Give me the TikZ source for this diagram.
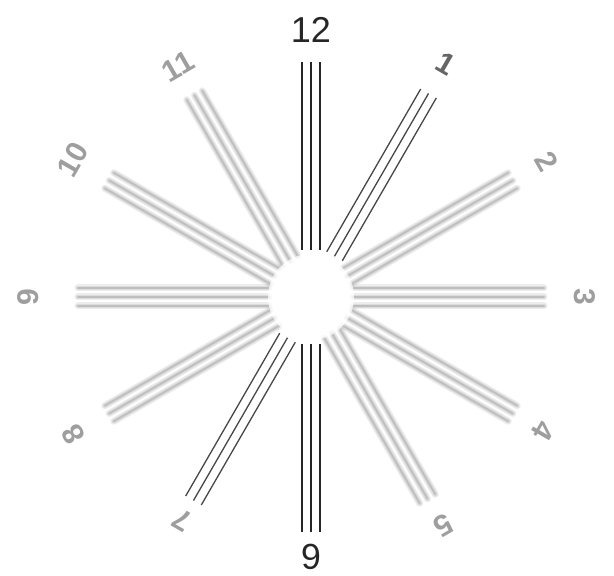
\documentclass[tikz,border=0pt]{standalone}
\usepackage{fontspec}
\setmainfont{Liberation Sans}
\tikzset{
  sharpline/.style={line width=1.5pt, draw=black!85},
  halfline/.style={line width=1.3pt, draw=black!72},
  haze/.style={line width=#1, draw=black, opacity=0.07, line cap=round},
  numbig/.style={font=\fontsize{36}{36}\selectfont, text=black!85, inner sep=0pt},
  numsoft/.style={font=\fontsize{30}{30}\selectfont\bfseries, text=black!38, inner sep=0pt}
}
\begin{document}
\begin{tikzpicture}[x=1pt,y=1pt]
        \useasboundingbox (-311,-279) rectangle (303,297);
        \coordinate (O) at (0,0);
        % blurred spokes
        \foreach \h in {2,3,4,5,8,9,10,11} {
          \begin{scope}[rotate=90-30*\h]
            \foreach \d in {-9,0,9} {
              \draw[haze=7pt] (42,\d) -- (233,\d);
              \draw[haze=4.5pt] (42,\d) -- (233,\d);
              \draw[haze=2.5pt] (42,\d) -- (233,\d);
              \draw[haze=1.2pt] (42,\d) -- (233,\d);
            }
          \end{scope}
        }
        % sharp spokes, 12 -- 6 and 1 -- 7
        \foreach \h/\st in {12/sharpline,6/sharpline,1/halfline,7/halfline} {
          \begin{scope}[rotate=90-30*\h]
            \foreach \d in {-9,0,9}
              \draw[\st] (47,\d) -- (235,\d);
          \end{scope}
        }
        \fill[white, opacity=0.7] (O) circle (43);
        % hour numbers
        \foreach \h/\r in {2/272,3/274,4/268,5/264,7/258,8/274,9/283,10/275,11/266}
          \node[numsoft, rotate=-30*\h] (lbl\h) at (90-30*\h:\r) {\h};
        \node[numsoft, text=black!60, rotate=-30] (lbl1) at (60:269) {1};
        \node[numbig] (lbl12) at (90:267) {12};
        \node[numbig, rotate=180] (lbl6) at (-90:260) {6};
    \end{tikzpicture}
\end{document}
